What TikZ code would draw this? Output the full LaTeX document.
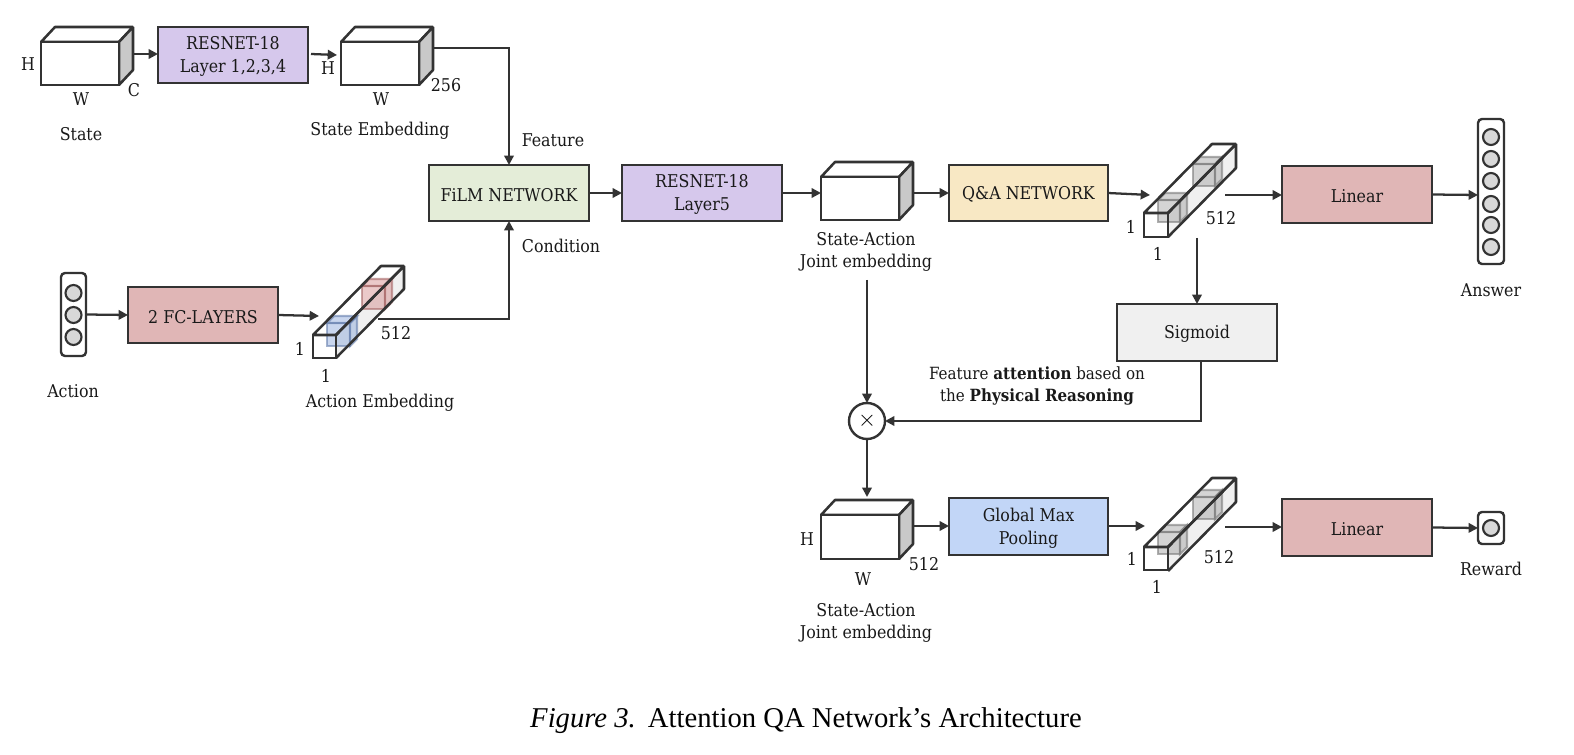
\documentclass[tikz,border=0pt]{standalone}
\usepackage{fontspec}
\usetikzlibrary{arrows.meta,calc}
\setmainfont{DejaVu Serif Condensed}
\newfontfamily\capfont{Liberation Serif}
\definecolor{edge}{HTML}{333333}
\definecolor{cpurple}{HTML}{D6C8EC}
\definecolor{cgreen}{HTML}{E4EDD8}
\definecolor{cyellow}{HTML}{F8E8C4}
\definecolor{cred}{HTML}{E0B6B6}
\definecolor{cblue}{HTML}{C2D6F7}
\definecolor{cgray}{HTML}{F0F0F0}
\definecolor{cside}{HTML}{C9C9C9}
\definecolor{cball}{HTML}{D8D8D8}
\definecolor{cellblue}{HTML}{7F9FD8}
\definecolor{cellred}{HTML}{D08080}
\definecolor{cellgray}{HTML}{999999}
\tikzset{
  x=0.75pt,y=-0.75pt,
  boxn/.style={draw=edge,line width=2.2pt,rectangle,inner sep=0pt,outer sep=0pt},
  lab/.style={inner sep=0pt,outer sep=0pt,align=center,text=black!90,font=\fontsize{13.2}{17}\selectfont},
  boxlab/.style={inner sep=0pt,outer sep=0pt,align=center,text=black!90,font=\fontsize{13.2}{17.2}\selectfont},
  conn/.style={draw=edge,line width=1.7pt,-{Triangle[length=7pt,width=7pt]}},
  face/.style={draw=edge,line width=1.9pt,line join=bevel},
  ball/.style={circle,draw=edge,line width=1.6pt,fill=cball,minimum size=12pt,inner sep=0pt},
  vec/.style={draw=edge,line width=1.8pt,rounded corners=3pt,rectangle,inner sep=0pt,outer sep=0pt,fill=white}
}
% rectangle node from pixel corners, with its text node slightly lowered
\newcommand{\pbox}[7]{%
  \pgfmathsetmacro{\pxcx}{(#2+#4)/2}\pgfmathsetmacro{\pxcy}{(#3+#5)/2}%
  \pgfmathsetmacro{\pxw}{(#4-#2)*0.75}\pgfmathsetmacro{\pxh}{(#5-#3)*0.75}%
  \node[#6,minimum width=\pxw pt,minimum height=\pxh pt] (#1) at (\pxcx,\pxcy) {};
  \node[boxlab] (#1t) at ([yshift=-1.3pt]#1.center) {#7};}
% 3-d block: front face x1,y1,x2,y2
\newcommand{\cubeblock}[5]{%
  \fill[white] (#2,#3) rectangle (#4,#5);
  \draw[face,fill=white] (#2,#3) -- ++(14,-15) -- ++(#4-#2,0) -- (#4,#3) -- cycle;
  \draw[face,fill=cside] (#4,#3) -- ++(14,-15) -- ++(0,#5-#3) -- (#4,#5) -- cycle;
  \pbox{#1}{#2}{#3}{#4}{#5}{draw=edge,line width=1.9pt,fill=white,rectangle,inner sep=0pt,outer sep=0pt}{}}
% small translucent cube: x y size colour
\newcommand{\minicell}[4]{%
  \begin{scope}[fill opacity=.42,draw opacity=.6,draw=#4!80!black,line width=1.6pt,fill=#4]
  \path[draw,fill] (#1,#2) rectangle ++(#3,#3);
  \path[draw,fill] (#1,#2) -- ++(7,-7) -- ++(#3,0) -- ++(-7,7) -- cycle;
  \path[draw,fill] (#1+#3,#2) -- ++(7,-7) -- ++(0,#3) -- ++(-7,7) -- cycle;
  \end{scope}}
% strip: x y (top-left front) w h, then cells in arg
\newcommand{\longstrip}[6]{%
  \draw[fill=cgray,draw=none] (#2+#4,#3) -- ++(68,-69) -- ++(0,#4) -- ++(-68,69) -- cycle;
  \fill[white] (#2,#3) -- ++(68,-69) -- ++(#4,0) -- ++(-68,69) -- cycle;
  \fill[white] (#2,#3) rectangle ++(#4,#5);
  #6
  \draw[face] (#2,#3) -- ++(68,-69) -- ++(#4,0) -- ++(-68,69) -- cycle;
  \draw[face] (#2+#4,#3) -- ++(68,-69) -- ++(0,#4) -- ++(-68,69);
  \pbox{#1}{#2}{#3}{#2+#4}{#3+#5}{draw=edge,line width=1.9pt,rectangle,inner sep=0pt,outer sep=0pt}{}}
\begin{document}
\begin{tikzpicture}
\useasboundingbox[fill=white] (0,0) rectangle (1574,755);
% blocks
\cubeblock{stateb}{41}{42}{119}{85}
\cubeblock{stateemb}{341}{42}{419}{85}
\cubeblock{joint}{821}{177}{899}{220}
\cubeblock{jointb}{821}{515}{899}{559}
% boxes
\pbox{res}{158}{27}{308}{83}{boxn,fill=cpurple}{RESNET-18\\Layer 1,2,3,4}
\pbox{film}{429}{165}{589}{221}{boxn,fill=cgreen}{FiLM NETWORK}
\pbox{resf}{622}{165}{782}{221}{boxn,fill=cpurple}{RESNET-18\\Layer5}
\pbox{qa}{949}{165}{1108}{221}{boxn,fill=cyellow}{Q\&A NETWORK}
\pbox{fc}{128}{287}{278}{343}{boxn,fill=cred}{2 FC-LAYERS}
\pbox{lina}{1282}{166}{1432}{223}{boxn,fill=cred}{Linear}
\pbox{linb}{1282}{499}{1432}{556}{boxn,fill=cred}{Linear}
\pbox{sig}{1117}{304}{1277}{361}{boxn,fill=cgray}{Sigmoid}
\pbox{gmp}{949}{498}{1108}{555}{boxn,fill=cblue}{Global Max\\Pooling}
% strips
\longstrip{astrip}{313}{335}{23}{23}{\minicell{327}{323}{23}{cellblue}\minicell{362}{286}{23}{cellred}}
\longstrip{qstrip}{1144}{213}{24}{24}{\minicell{1158}{200}{22}{cellgray}\minicell{1193}{164}{22}{cellgray}}
\longstrip{gstrip}{1144}{547}{24}{23}{\minicell{1158}{532}{22}{cellgray}\minicell{1193}{497}{22}{cellgray}}
% vectors
\pbox{act}{61}{273}{86}{356}{vec}{}
\foreach \n/\y in {a1/293,a2/315,a3/337} \node[ball] (\n) at (73.5,\y) {};
\pbox{ans}{1478}{119}{1504}{264}{vec}{}
\foreach \n/\y in {b1/137,b2/159,b3/181,b4/204,b5/225,b6/247} \node[ball] (\n) at (1491,\y) {};
\pbox{rew}{1478}{512}{1504}{544}{vec}{}
\node[ball] (r1) at (1491,528) {};
\node[circle,draw=edge,line width=1.8pt,minimum size=27pt,inner sep=0pt,outer sep=0pt,fill=white,font=\LARGE] (mul) at (867,421) {$\times$};
% labels
\node[lab] (t1) at (28,64) {H};
\node[lab] (t2) at (81,99) {W};
\node[lab] (t3) at (134,90) {C};
\node[lab] (t4) at (81,134) {State};
\node[lab] (t5) at (328,68) {H};
\node[lab] (t6) at (381,99) {W};
\node[lab] (t7) at (446,85) {256};
\node[lab] (t8) at (380,131) {State Embedding};
\node[lab] (t9) at (553,140) {Feature};
\node[lab] (t10) at (561,246) {Condition};
\node[lab] (t11) at (73,391) {Action};
\node[lab] (t12) at (300,349) {1};
\node[lab] (t13) at (326,376) {1};
\node[lab] (t14) at (396,333) {512};
\node[lab] (t15) at (380,403) {Action Embedding};
\node[lab] (t16) at (866,252) {State-Action\\Joint embedding};
\node[lab] (t17) at (1131,227) {1};
\node[lab] (t18) at (1158,254) {1};
\node[lab] (t19) at (1221,218) {512};
\node[lab] (t20) at (1491,290) {Answer};
\node[lab,font=\fontsize{12.6}{17}\selectfont] (t21) at (1037,386) {Feature \textbf{attention} based on\\the \textbf{Physical Reasoning}};
\node[lab] (t22) at (807,539) {H};
\node[lab] (t23) at (863,579) {W};
\node[lab] (t24) at (924,564) {512};
\node[lab] (t25) at (866,623) {State-Action\\Joint embedding};
\node[lab] (t26) at (1132,559) {1};
\node[lab] (t27) at (1157,587) {1};
\node[lab] (t28) at (1219,557) {512};
\node[lab] (t29) at (1491,569) {Reward};
\node[inner sep=0pt,font=\capfont\fontsize{21.5}{24}\selectfont] (cap) at (806,721) {\textit{Figure 3.}\hspace{0.42em}Attention QA Network’s Architecture};
% connector ends
\coordinate (e1) at (133,54);
\coordinate (e2) at (311,54);
\coordinate (e3) at (337,55);
\coordinate (e4) at (433,48);
\coordinate (e5) at (319,316);
\coordinate (e6) at (378,319);
\coordinate (e7) at (821,193);
\coordinate (e8) at (913,193);
\coordinate (e9) at (1150,195);
\coordinate (e10) at (1225,195);
\coordinate (e11) at (1197,238);
\coordinate (e12) at (867,280);
\coordinate (e13) at (913,526);
\coordinate (e14) at (1145,526);
\coordinate (e15) at (1225,527);
\coordinate (e16) at (1201,361);
\coordinate (e17) at (867,497);
\coordinate (e18) at (1478,195);
\coordinate (e19) at (1478,528);
% connectors
\draw[conn] (e1) -- (res.west |- e1);
\draw[conn] (e2) -- (e3);
\draw[conn] (e4) -| (film.north);
\draw[conn] (film.east) -- (resf.west);
\draw[conn] (act.east) -- (fc.west);
\draw[conn] (fc.east) -- (e5);
\draw[conn] (e6) -| (film.south);
\draw[conn] (resf.east) -- (e7);
\draw[conn] (e8) -- (qa.west |- e8);
\draw[conn] (qa.east) -- (e9);
\draw[conn] (e10) -- (lina.west |- e10);
\draw[conn] (lina.east) -- (e18);
\draw[conn] (e11) -- (e11 |- sig.north);
\draw[conn] (e16) |- (mul.east);
\draw[conn] (e12) -- (mul.north);
\draw[conn] (mul.south) -- (e17);
\draw[conn] (e13) -- (gmp.west |- e13);
\draw[conn] (gmp.east |- e14) -- (e14);
\draw[conn] (e15) -- (linb.west |- e15);
\draw[conn] (linb.east) -- (e19);
\end{tikzpicture}
\end{document}
